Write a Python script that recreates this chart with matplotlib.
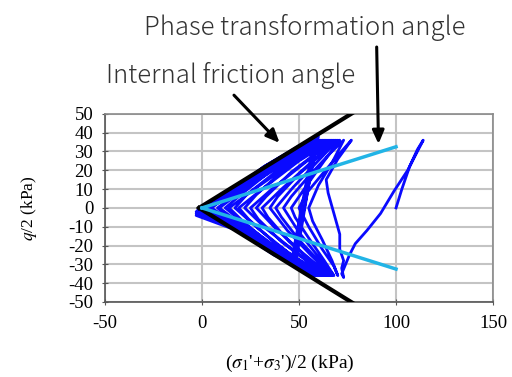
import numpy as np
import matplotlib.pyplot as plt

plt.rcParams['axes.unicode_minus'] = False
plt.rcParams['mathtext.fontset'] = 'stix'

# stress path (p' , q/2), cycle by cycle
path_p = [100, 103, 107, 111, 114,
          111, 106, 99, 92, 85, 79, 76, 74, 72, 73,
          72, 73, 71, 71, 68, 65, 64, 70, 77,
          71, 62, 54, 50, 55, 62, 68, 70,
          67, 62, 57, 55, 60, 67, 73,
          66, 56, 46, 42, 50, 60, 68,
          63, 55, 48, 46, 54, 63, 71,
          62, 50, 39, 35, 44, 56, 67,
          60, 50, 41, 38, 47, 59, 70,
          60, 46, 33, 28, 38, 52, 66,
          57, 45, 34, 31, 41, 56, 69,
          58, 42, 28, 22, 33, 49, 65,
          55, 41, 29, 25, 36, 53, 68,
          56, 39, 23, 17, 29, 46, 64,
          53, 38, 24, 19, 31, 50, 67,
          55, 37, 20, 12, 25, 44, 63,
          52, 36, 21, 14, 27, 48, 66,
          54, 35, 17, 8, 21, 42, 62,
          51, 35, 18, 9, 23, 46, 65,
          53, 34, 15, 4, 18, 40, 61,
          50, 34, 15, 5, 20, 44, 64,
          52, 33, 14, 1, 16, 38, 60,
          49, 33, 13, 2, 19, 42, 63,
          51, 33, 13, 0, 14, 37, 60,
          48, 32, 12, -1, 18, 41, 62,
          50, 32, 12, -2, 12, 36, 59,
          48, 31, 11, -3, 17, 40, 61,
          49, 32, 11, -2, 10, 35, 58,
          47, 31, 12, -3, 14, 33, 47, 59,
          48, 33, 17, -2, 9, 23, 37, 49, 58,
          46, 32, 18, -3, 13, 27, 41, 52, 60,
          47, 34, 20, 3, -2, 8, 21, 35, 48, 57]
path_q = [0, 10, 22, 31, 36,
          30, 20, 9, -3, -12, -19, -25, -30, -35, -37,
          -32, -28, -22, -14, -3, 8, 15, 26, 36,
          29, 18, 8, 0, -10, -22, -31, -36,
          -28, -17, -7, 0, 12, 24, 36,
          29, 18, 6, 0, -13, -26, -36,
          -28, -16, -5, 0, 12, 25, 36,
          29, 18, 6, 0, -12, -25, -36,
          -28, -17, -5, 0, 11, 24, 36,
          30, 19, 6, 0, -11, -24, -36,
          -29, -18, -5, 0, 10, 24, 36,
          31, 20, 7, 0, -11, -24, -36,
          -29, -18, -6, 0, 10, 24, 36,
          31, 20, 7, 0, -11, -25, -36,
          -30, -19, -6, 0, 10, 25, 36,
          32, 21, 7, 0, -11, -25, -36,
          -30, -20, -7, 0, 10, 25, 36,
          32, 21, 7, 0, -11, -26, -36,
          -30, -20, -7, 0, 11, 26, 36,
          32, 21, 7, 0, -11, -26, -36,
          -30, -20, -7, 0, 12, 27, 36,
          33, 21, 6, 0, -10, -25, -36,
          -31, -20, -6, 0, 12, 27, 36,
          33, 22, 6, 0, -9, -25, -36,
          -31, -20, -6, -1, 11, 27, 36,
          33, 22, 6, -1, -8, -24, -36,
          -31, -20, -6, -2, 11, 26, 36,
          32, 22, 6, -2, -7, -23, -36,
          -30, -20, -8, -3, 9, 21, 30, 37,
          -31, -21, -11, -3, 5, 14, 23, 31, 37,
          -29, -21, -12, -4, 8, 17, 26, 33, 38,
          -30, -22, -13, -3, -1, 4, 13, 22, 31, 37]

# failure line and phase transformation lines
fail_p = [-1.5, 80]
fail_up = [0, 52]
fail_dn = [0, -52]
pt_p = [0, 100]
pt_up = [0, 32.5]
pt_dn = [0, -32.5]

fig = plt.figure(figsize=(5.12, 3.77), dpi=100)
ax = fig.add_axes([0.205, 0.199, 0.758, 0.499])

ax.plot(path_p, path_q, c='#0a0aff', lw=2.0, zorder=3)
ax.plot(fail_p, fail_up, c='black', lw=3, zorder=4)
ax.plot(fail_p, fail_dn, c='black', lw=3, zorder=4)
ax.plot(pt_p, pt_up, c='#22b4e6', lw=2.5, zorder=5)
ax.plot(pt_p, pt_dn, c='#22b4e6', lw=2.5, zorder=5)

ax.set_xlim(-50, 150)
ax.set_ylim(-50, 50)
ax.set_xticks([-50, 0, 50, 100, 150])
ax.set_yticks(range(-50, 51, 10))
ax.grid(True, color='#c4c4c4', lw=1.5)
ax.set_axisbelow(True)
for s in ax.spines.values():
    s.set_color('#8a8a8a')
    s.set_linewidth(1.2)
ax.spines['left'].set_color('#555555')
ax.spines['bottom'].set_color('#555555')
ax.tick_params(direction='inout', length=5, color='#555555', labelsize=13.5)
ax.tick_params(axis='x', pad=7)
ax.tick_params(axis='y', pad=6)
for lab in ax.get_xticklabels() + ax.get_yticklabels():
    lab.set_family('Liberation Serif')

fig.text(0.056, 0.448, r'$q$/2 (kPa)', rotation=90, ha='center', va='center',
         fontsize=12.5, family='Liberation Serif')
fig.text(0.566, 0.035, "($\\sigma_1$'+$\\sigma_3$')/2 (kPa)", ha='center', va='center',
         fontsize=14, family='Liberation Serif')

ax.annotate('', xy=(41, 33.5), xytext=(15.5, 61), xycoords='data',
            arrowprops=dict(arrowstyle='-|>,head_width=0.35,head_length=0.8',
                            color='black', lw=2.2), annotation_clip=False)
ax.annotate('', xy=(91, 32.5), xytext=(90, 87), xycoords='data',
            arrowprops=dict(arrowstyle='-|>,head_width=0.35,head_length=0.8',
                            color='black', lw=2.2), annotation_clip=False)

fig.text(305 / 512, 1 - 27 / 377, 'Phase transformation angle', ha='center', va='center',
         fontsize=18.5, color='#333333', family='Noto Sans CJK JP', fontweight='light')
fig.text(231 / 512, 1 - 75 / 377, 'Internal friction angle', ha='center', va='center',
         fontsize=18.5, color='#333333', family='Noto Sans CJK JP', fontweight='light')

fig.savefig('out.png')
